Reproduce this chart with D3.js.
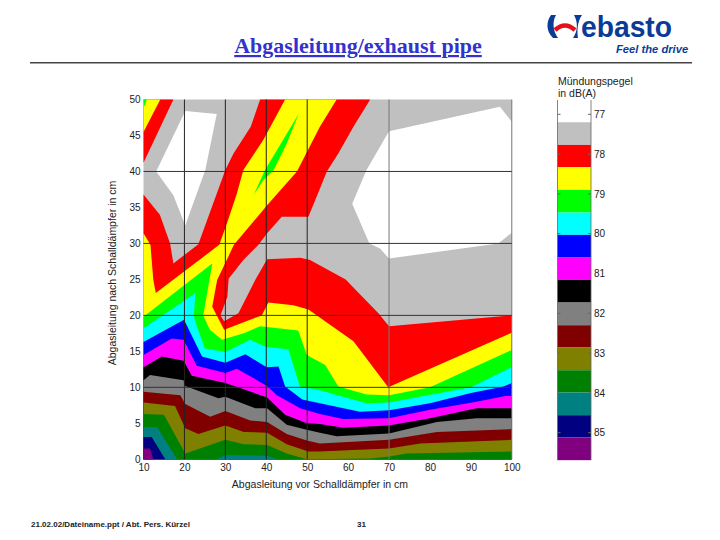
<!DOCTYPE html>
<html><head><meta charset="utf-8">
<script src="https://cdn.jsdelivr.net/npm/d3@7"></script>
<style>html,body{margin:0;padding:0;background:#fff}svg{display:block}text{font-family:"Liberation Sans",Arial,sans-serif}</style>
</head><body><svg id="c" width="720" height="540"></svg>
<script>
const titleText = "Abgasleitung/exhaust pipe";
const xTitle = "Abgasleitung vor Schalldämpfer in cm";
const yTitle = "Abgasleitung nach Schalldämpfer in cm";
const legendTitle = ["Mündungspegel", "in dB(A)"];
const footerText = "21.02.02/Dateiname.ppt / Abt. Pers. Kürzel";
const pageNumber = "31";
const xTicks = [10,20,30,40,50,60,70,80,90,100];
const yTicks = [0,5,10,15,20,25,30,35,40,45,50];
const gridXDark = [20,30,40,50];
const gridXLight = [70,100];
const gridY = [10,20,30,40];
const legendTicks = [77,78,79,80,81,82,83,84,85];
const legendEdges = [76.64,77.2,77.77,78.33,78.9,79.47,80.03,80.6,81.16,81.73,82.3,82.86,83.43,83.99,84.56,85.12,85.69];
const legendColors = ["#ffffff","#c0c0c0","#ff0000","#ffff00","#00ff00","#00ffff","#0000ff","#ff00ff","#000000","#808080","#800000","#808000","#008000","#008080","#000080","#800080"];

const plotCorners = [[10,50],[100,50],[100,0],[10,0]];
const whiteLeft = [[20.2,48.4],[27.9,48],[25.1,40.2],[20.2,32.5],[17.3,36.7],[13.1,40]];
const whiteRight = [[97.1,49],[100,46.9],[100,31.5],[96.7,30],[70,27.9],[67.8,29.3],[65.2,30],[61,35.5],[64.5,40.2],[70,45.6]];
const redCorner = [[10,50],[17.3,50],[10,41.2]];
const redMain = [[10,36.8],[14,34],[16.5,30],[17.3,27.2],[23.4,29.9],[30,40.2],[32,42.5],[36.2,46.2],[38.5,50],[65.4,50],[61.3,46.2],[57.6,42.5],[54.8,40],[53.1,37.6],[50.3,33.7],[43.8,33.7],[40.2,31.4],[38.1,29.8],[34.4,27.7],[30.8,25.1],[30.5,22.6],[28.8,20],[29.7,19.2],[33.2,20.3],[37.3,24.9],[40.2,27.8],[48.3,28],[50.7,27.7],[59.4,25],[67.4,20.3],[70,18.5],[100,20],[100,0],[10,0]];
const yellowCorner = [[10,50],[14.1,50],[10,45.5]];
const yellowMain = [[10,31.4],[11.7,29.8],[12.4,24.9],[13,23.1],[28.5,29.8],[30.4,32.8],[32.8,36.9],[34.4,40.2],[39.3,44.4],[44.6,50],[57.2,50],[53.1,46.2],[47.5,40],[40.2,35.3],[32.1,29.8],[28,24.9],[26.8,21.2],[29.7,18],[38.9,20],[40.5,21.8],[46.6,21.4],[50.3,20.8],[61.3,16.4],[69.8,10],[100,17.6],[100,0],[10,0]];
const greenCorner = [[10,50],[10.8,50],[10.2,49]];
const greenIsland = [[36.9,36.7],[39.7,40.2],[47.9,48],[45,43.9],[41.8,40.2],[39.3,38.8]];
const greenMain = [[10,19.8],[26.8,27.2],[24.6,20],[26.2,18],[29.2,16.6],[34.5,17.5],[38.5,18.5],[47.8,17.9],[49.9,14.5],[54.4,13.1],[57.6,10.1],[64.5,9],[70,8.9],[80,10],[100,15.2],[100,0],[10,0]];
const cyanMain = [[10,18.2],[22.7,23.1],[22.3,20],[22.9,18.7],[25,15.4],[30,14.9],[36,16.6],[40.1,15.6],[45.4,15.3],[48.2,10.1],[53.1,9.6],[64.5,7.8],[70,7.9],[90,10],[100,12.8],[100,0],[10,0]];
const blueMain = [[10,16.3],[19.9,19.4],[24.3,14.3],[30,13.4],[34.9,14.6],[40.1,12.8],[43,12.9],[44.6,10.1],[48.8,8.3],[53.1,7.8],[62.9,6.6],[70,6.8],[80,7.8],[90,9.2],[98,10.1],[100,10.6],[100,0],[10,0]];
const magentaMain = [[10,14.5],[16.9,16.8],[19.8,16.6],[23,13],[30,12],[32.8,12.6],[40.2,10.2],[42.6,8.9],[48.3,7.1],[53.1,6.3],[58.8,5.6],[70,5.7],[80,6.9],[91.4,8],[98.4,8.8],[100,8.8],[100,0],[10,0]];
const blackMain = [[10,12.8],[14.5,14.3],[19.8,13.7],[21.8,11.6],[30,10.6],[40.2,8.6],[44.6,6.2],[49.9,5],[53.1,4.9],[58.8,4.4],[70,4.7],[80,5.7],[91.4,7.1],[100,7.1],[100,0],[10,0]];
const grayMain = [[10,11],[11.6,11.7],[19.8,11],[20.2,10.2],[28.3,8.5],[30,8.7],[37.3,7.1],[40.2,7.1],[45,4.8],[49.9,4.1],[53.1,3.7],[57.2,3.2],[70,3.6],[81.7,5.2],[91.4,5.7],[100,5.7],[100,0],[10,0]];
const maroonMain = [[10,9.4],[19,8.9],[20.2,7.7],[26.3,5.9],[30,6.7],[36.1,5.4],[40.2,5.2],[45,3.5],[49.9,2.6],[53.1,2.2],[70,2.7],[81.7,3.8],[100,4.2],[100,0],[10,0]];
const oliveMain = [[10,7.9],[17.7,7.4],[20.2,4.3],[23.4,3.5],[30,4.7],[34.5,3.8],[40.2,3.7],[45,2.1],[50.3,1.1],[53.1,1.1],[61.3,1.3],[70,1.5],[77.6,2.2],[100,2.7],[100,0],[10,0]];
const darkGreenMain = [[10,6.3],[15,6.2],[20.2,0.8],[30,2.7],[34.5,2.1],[40.2,2],[45,0.8],[49.9,0],[65.4,0.1],[70,0.4],[74.3,0.8],[100,1.1],[100,0],[10,0]];
const tealLeft = [[10,4.5],[13.3,4.5],[18.2,0],[10,0]];
const tealSliver = [[27.9,0],[30,0.6],[40.2,0.5],[42.6,0]];
const navyLeft = [[10,3.1],[12,3.1],[15.3,0],[10,0]];
const purpleLeft = [[10,1.5],[11.6,1.5],[12.4,0],[10,0]];

const layers = [
 [plotCorners,1],[whiteLeft,0],[whiteRight,0],[redCorner,2],[redMain,2],[yellowCorner,3],[yellowMain,3],
 [greenCorner,4],[greenIsland,4],[greenMain,4],[cyanMain,5],[blueMain,6],[magentaMain,7],[blackMain,8],
 [grayMain,9],[maroonMain,10],[oliveMain,11],[darkGreenMain,12],[tealLeft,13],[tealSliver,13],[navyLeft,14],[purpleLeft,15]
];

const svg = d3.select("#c");
const x = d3.scaleLinear().domain([10,100]).range([143.5,511.8]);
const y = d3.scaleLinear().domain([0,50]).range([459.3,99.5]);
const line = d3.line().x(d=>x(d[0])).y(d=>y(d[1]));

const plot = svg.append("g");
plot.selectAll("path").data(layers).join("path")
  .attr("d",d=>line(d[0])+"Z").attr("fill",d=>legendColors[d[1]]);

const grid = svg.append("g").attr("fill","none");
grid.selectAll(".vd").data(gridXDark).join("line").attr("class","vd")
  .attr("x1",d=>x(d)).attr("x2",d=>x(d)).attr("y1",y(0)).attr("y2",y(50)).attr("stroke","#222");
grid.selectAll(".vl").data(gridXLight).join("line").attr("class","vl")
  .attr("x1",d=>x(d)).attr("x2",d=>x(d)).attr("y1",y(0)).attr("y2",y(50)).attr("stroke","#777");
grid.selectAll(".h").data(gridY).join("line").attr("class","h")
  .attr("x1",x(10)).attr("x2",x(100)).attr("y1",d=>y(d)).attr("y2",d=>y(d)).attr("stroke","#333");

const gx = svg.append("g").attr("transform",`translate(0,${y(0)})`)
  .call(d3.axisBottom(x).tickValues(xTicks).tickSize(0).tickPadding(5).tickFormat(d3.format("d")));
const gy = svg.append("g").attr("transform",`translate(${x(10)},0)`)
  .call(d3.axisLeft(y).tickValues(yTicks).tickSize(0).tickPadding(3).tickFormat(d3.format("d")));
[gx,gy].forEach(g=>{g.select(".domain").remove();g.selectAll("text").attr("font-size",10).attr("fill","#222").style("font-family",'"Liberation Sans",Arial,sans-serif');});

svg.append("text").attr("x",320).attr("y",488).attr("text-anchor","middle").attr("font-size",10.5).attr("fill","#222").text(xTitle);
svg.append("text").attr("transform","translate(116,273) rotate(-90)").attr("text-anchor","middle").attr("font-size",10.5).attr("fill","#222").text(yTitle);

// legend
const ly = d3.scaleLinear().domain([77,85]).range([114.3,432.7]);
const lg = svg.append("g");
lg.selectAll("rect").data(legendColors).join("rect")
  .attr("x",557.5).attr("width",33.5)
  .attr("y",(d,i)=>ly(legendEdges[i])).attr("height",(d,i)=>ly(legendEdges[i+1])-ly(legendEdges[i]))
  .attr("fill",d=>d);
lg.selectAll(".side").data([557.5,591]).join("line").attr("class","side")
  .attr("x1",d=>d).attr("x2",d=>d).attr("y1",ly(legendEdges[0])).attr("y2",ly(legendEdges[16])).attr("stroke","#666").attr("stroke-width",0.8);
lg.selectAll(".tl").data(legendTicks).join("line").attr("class","tl")
  .attr("x1",557.5).attr("x2",560.5).attr("y1",d=>ly(d)).attr("y2",d=>ly(d)).attr("stroke","#666");
lg.selectAll(".tr").data(legendTicks).join("line").attr("class","tr")
  .attr("x1",588).attr("x2",591).attr("y1",d=>ly(d)).attr("y2",d=>ly(d)).attr("stroke","#666");
const ga = svg.append("g").attr("transform","translate(591,0)")
  .call(d3.axisRight(ly).tickValues(legendTicks).tickSize(0).tickPadding(3).tickFormat(d3.format("d")));
ga.select(".domain").remove();
ga.selectAll("text").attr("font-size",10).attr("fill","#222").style("font-family",'"Liberation Sans",Arial,sans-serif');
svg.selectAll(".lt").data(legendTitle).join("text").attr("class","lt")
  .attr("x",558).attr("y",(d,i)=>85+i*12).attr("font-size",10.5).attr("fill","#222").text(d=>d);

// header
svg.append("text").attr("x",358).attr("y",53).attr("text-anchor","middle")
  .style("font-family",'"Liberation Serif","Times New Roman",serif').attr("font-weight","bold")
  .attr("font-size",22).attr("fill","#3333cc").attr("text-decoration","underline").text(titleText);
svg.append("line").attr("x1",30).attr("x2",692).attr("y1",62.7).attr("y2",62.7).attr("stroke","#444").attr("stroke-width",1.6);

// logo
const logo = svg.append("g");
logo.append("path").attr("fill","#0a3c96").attr("d","M551 15 L556 15 C552 22 553 31 558 38 L553 38 C546 31 546 22 551 15Z");
logo.append("path").attr("fill","#0a3c96").attr("d","M574 15 L582 15 C577 22 577 32 578 38 L573 38 C578 31 578 22 574 15Z");
logo.append("path").attr("fill","none").attr("stroke","#e3101a").attr("stroke-width",4.5).attr("d","M555 30 Q565 21 575 30");
logo.append("text").attr("x",581).attr("y",37).attr("font-size",29).attr("font-weight","bold").attr("fill","#0a3c96").attr("textLength",91).attr("lengthAdjust","spacingAndGlyphs").text("ebasto");
logo.append("text").attr("x",616).attr("y",53).attr("font-size",11.2).attr("font-weight","bold").attr("font-style","italic").attr("fill","#0a3c96").text("Feel the drive");

// footer
svg.append("text").attr("x",31).attr("y",527).attr("font-size",8).attr("font-weight","bold").attr("fill","#222").text(footerText);
svg.append("text").attr("x",357).attr("y",527).attr("font-size",8).attr("font-weight","bold").attr("fill","#222").text(pageNumber);
</script></body></html>
